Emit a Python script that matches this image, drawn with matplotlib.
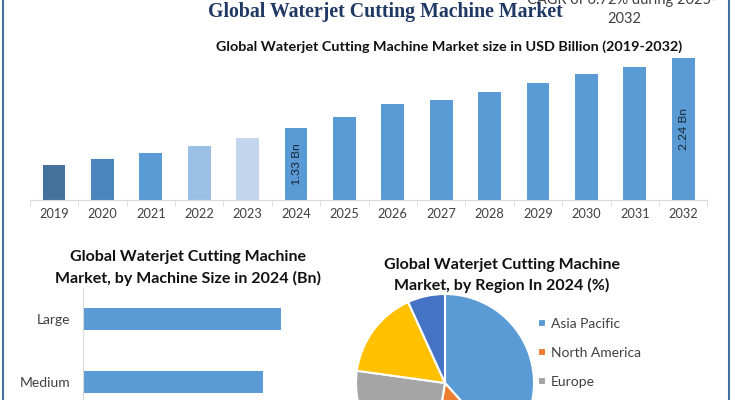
import matplotlib
matplotlib.use('Agg')
import matplotlib.pyplot as plt
from matplotlib.lines import Line2D

# market size by year (USD Bn)
years = ['2019', '2020', '2021', '2022', '2023', '2024', '2025',
         '2026', '2027', '2028', '2029', '2030', '2031', '2032']
market_size = [0.84, 0.92, 1.00, 1.09, 1.20, 1.33, 1.47,
               1.64, 1.69, 1.80, 1.92, 2.03, 2.13, 2.24]
bar_colors = ['#44729d', '#4a86bd', '#5b9bd5', '#9bc0e6', '#c3d6ee'] + ['#5b9bd5'] * 9
labelled = {'2024': '1.33 Bn', '2032': '2.24 Bn'}

# by machine size, 2024 (Bn)
size_labels = ['Large', 'Medium', 'Small']
size_values = [0.55, 0.50, 0.28]

# by region, 2024 (%)
regions = ['Asia Pacific', 'North America', 'Europe',
           'Middle East and Africa', 'South America']
region_share = [38.4, 14.2, 24.6, 16.0, 6.8]
region_colors = ['#5b9bd5', '#ed7d31', '#a5a5a5', '#ffc000', '#4472c4']

plt.rcParams['font.family'] = ['Lato', 'DejaVu Sans']
W, H = 735, 400


def fx(px):
    return px / W


def fy(py):
    return 1 - py / H


fig = plt.figure(figsize=(7.35, 4), dpi=100)
fig.patch.set_facecolor('white')

# --- top bar chart ---
y_floor = 0.382
ax1 = fig.add_axes([fx(29.8), fy(200), 677.6 / W, 145 / H])
x = range(len(years))
ax1.bar(x, market_size, width=0.47, color=bar_colors)
ax1.set_xlim(-0.5, len(years) - 0.5)
ax1.set_ylim(y_floor, y_floor + 145 * 0.01311)
for s in ['top', 'right', 'left']:
    ax1.spines[s].set_visible(False)
ax1.spines['bottom'].set_color('#d9d9d9')
ax1.set_yticks([])
ax1.set_xticks(list(x))
ax1.set_xticklabels(years, fontsize=9.2, color='#404040')
ax1.tick_params(axis='x', which='major', length=0, pad=6)
ax1.set_xticks([i - 0.5 for i in range(len(years) + 1)], minor=True)
ax1.tick_params(axis='x', which='minor', length=4, color='#d9d9d9')
for i, yr in enumerate(years):
    if yr in labelled:
        ax1.text(i, (y_floor + market_size[i]) / 2, labelled[yr], rotation=90,
                 ha='center', va='center', fontsize=8.8, color='#1a2a3a')

# --- machine size bars ---
ax2 = fig.add_axes([fx(83), fy(476.5), 247 / W, 189 / H])
ax2.barh(range(len(size_labels)), size_values, height=0.35, color='#5b9bd5')
ax2.set_ylim(len(size_labels) - 0.5, -0.5)
ax2.set_xlim(0, 247 / 360)
for s in ['top', 'right', 'bottom']:
    ax2.spines[s].set_visible(False)
ax2.spines['left'].set_color('#d9d9d9')
ax2.set_xticks([])
ax2.set_yticks(range(len(size_labels)))
ax2.set_yticklabels(size_labels, fontsize=10, color='#404040')
ax2.tick_params(axis='y', length=0, pad=9)

# --- region pie ---
r = 89
ax3 = fig.add_axes([fx(445 - r), fy(383 + r), 2 * r / W, 2 * r / H])
wedges, _ = ax3.pie(region_share, colors=region_colors, startangle=90,
                    counterclock=False,
                    wedgeprops=dict(edgecolor='white', linewidth=1.5))
ax3.set_xlim(-1, 1)
ax3.set_ylim(-1, 1)
fig.legend(wedges, regions, loc='upper left', bbox_to_anchor=(fx(538), fy(318)),
           frameon=False, fontsize=10, labelcolor='#404040',
           handlelength=0.55, handleheight=0.55, handletextpad=0.4,
           labelspacing=1.22, borderpad=0, borderaxespad=0)

# --- texts ---
fig.text(fx(385), fy(12), 'Global Waterjet Cutting Machine Market', ha='center', va='center',
         fontsize=14.3, fontweight='bold', family='Liberation Serif', color='#1f3864')
fig.text(fx(622), fy(0), 'CAGR of 6.72% during 2025-', ha='center', va='center',
         fontsize=10.5, color='#404040')
fig.text(fx(624), fy(19), '2032', ha='center', va='center', fontsize=10.5, color='#404040')
fig.text(fx(449), fy(47), 'Global Waterjet Cutting Machine Market size in USD Billion (2019-2032)',
         ha='center', va='center', fontsize=10.4, fontweight='bold', color='#111111')
fig.text(fx(188), fy(257), 'Global Waterjet Cutting Machine', ha='center', va='center',
         fontsize=11.5, fontweight='bold', color='#111111')
fig.text(fx(188), fy(278), 'Market, by Machine Size in 2024 (Bn)', ha='center', va='center',
         fontsize=11.5, fontweight='bold', color='#111111')
fig.text(fx(502), fy(265), 'Global Waterjet Cutting Machine', ha='center', va='center',
         fontsize=11.5, fontweight='bold', color='#111111')
fig.text(fx(502), fy(285), 'Market, by Region In 2024 (%)', ha='center', va='center',
         fontsize=11.5, fontweight='bold', color='#111111')

# frame lines
for px in [3, 729]:
    fig.add_artist(Line2D([fx(px), fx(px)], [0, 1], color='#41719c', lw=1.5))

fig.savefig('out.png', dpi=100)
